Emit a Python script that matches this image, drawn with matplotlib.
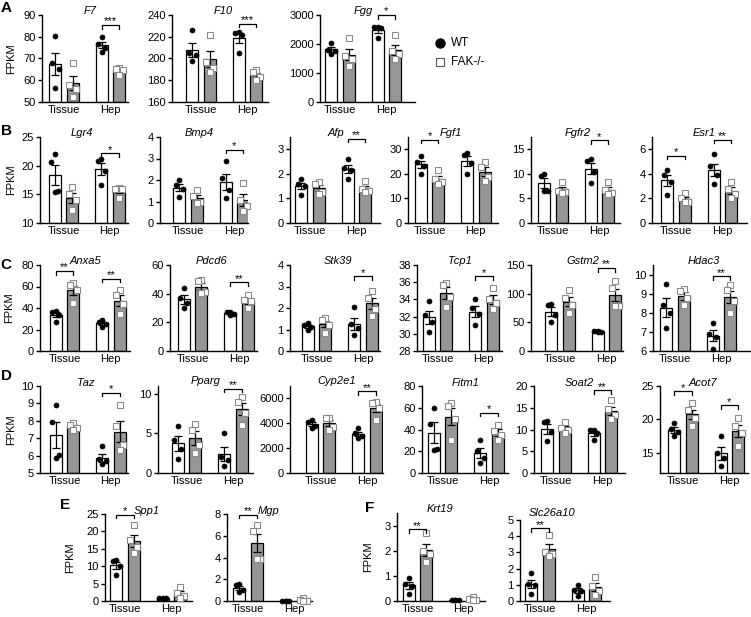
import numpy as np
import matplotlib
matplotlib.use("Agg")
import matplotlib.pyplot as plt

plt.rcParams['font.family'] = ['Liberation Sans', 'DejaVu Sans']

# ---------------- data (per gene: Tissue WT, Tissue FAK-/-, Hep WT, Hep FAK-/-) ----------------
groups = ["Tissue", "Hep"]
genotypes = ["WT", "FAK-/-"]

F7 = [[80.5, 68, 65, 56.5], [68, 58, 56, 52.5], [80, 76.5, 75, 73], [65.5, 65, 64.5, 62.5]]
F10 = [[226, 205, 203, 198], [222, 197, 191, 188], [224, 223, 222, 205], [189, 188, 183, 180]]
Fgg = [[2050, 1800, 1770, 1650], [2200, 1600, 1500, 1250], [2600, 2580, 2560, 2200], [2300, 1750, 1650, 1500]]
Lgr4 = [[22.1, 20.6, 15.5, 15.4], [16.3, 15.0, 14.0, 12.3], [21.2, 20.8, 19.0, 16.6], [16.1, 16.0, 15.9, 14.4]]
Bmp4 = [[2.0, 1.75, 1.6, 1.2], [1.55, 1.24, 1.0, 0.93], [2.87, 2.1, 1.55, 1.16], [1.85, 1.05, 0.8, 0.55]]
Afp = [[1.78, 1.6, 1.5, 1.15], [1.65, 1.6, 1.28, 1.2], [2.62, 2.22, 2.15, 1.79], [1.7, 1.4, 1.32, 1.25]]
Fgf1 = [[27.3, 24.7, 23.3, 20.0], [21.5, 18.0, 16.8, 16.0], [28.5, 27.8, 24.5, 20.0], [24.7, 22.9, 18.7, 17.0]]
Fgfr2 = [[10.0, 9.5, 6.6, 6.45], [8.4, 6.6, 6.3, 6.1], [13.0, 12.6, 10.4, 8.2], [8.4, 6.8, 6.1, 5.9]]
Esr1 = [[4.35, 3.9, 3.3, 2.3], [2.45, 2.0, 1.75, 1.72], [5.6, 4.6, 3.87, 3.2], [3.35, 2.8, 2.4, 2.0]]
Anxa5 = [[37.5, 36, 33.5, 27], [63, 61.5, 57, 44.6], [29, 27, 25.5, 22.5], [57, 52, 44, 34]]
Pdcd6 = [[43.9, 37, 33.5, 30], [49.5, 48.5, 41.5, 40.5], [27.5, 27, 26, 25], [38.8, 35.8, 34.6, 30]]
Stk39 = [[1.3, 1.2, 1.12, 1.0], [1.53, 1.45, 1.23, 0.84], [2.03, 1.25, 1.05, 0.75], [2.8, 2.45, 1.95, 1.65]]
Tcp1 = [[33.8, 32.2, 31.4, 30.2], [35.9, 35.7, 34.3, 33.1], [34, 33, 32.3, 31], [35.35, 34, 33.6, 32.9]]
Gstm2 = [[82, 80, 62, 50], [106, 93, 80, 66], [35, 34.5, 34, 33.5], [122.6, 110, 78.7, 78.7]]
Hdac3 = [[9.5, 8.4, 8.0, 7.2], [9.25, 9.15, 8.75, 8.4], [7.45, 6.9, 6.75, 6.1], [9.45, 9.2, 8.6, 8.0]]
Taz = [[8.9, 7.95, 6.05, 5.85], [7.85, 7.75, 7.6, 7.5], [6.55, 5.8, 5.7, 5.5], [8.9, 7.7, 6.6, 6.3]]
Pparg = [[6.0, 4.2, 3.0, 1.75], [6.2, 5.5, 3.5, 2.5], [5.05, 2.0, 1.6, 0.9], [9.6, 9.0, 7.6, 6.07]]
Cyp2e1 = [[4270, 4140, 3820, 3600], [4450, 4400, 3700, 3450], [3600, 3200, 3000, 2800], [5730, 5600, 5250, 4270]]
Fitm1 = [[60, 45, 22, 21], [64.5, 62, 50, 30], [30, 20, 13.5, 9], [44.5, 38.5, 35, 30.5]]
Soat2 = [[11.9, 11.7, 9.5, 7.3], [11.8, 10.4, 9.8, 9.2], [10, 9.8, 9.2, 7.6], [16.7, 14.6, 13.3, 12.3]]
Acot7 = [[19.5, 18.6, 18.1, 17.5], [22.4, 21.4, 20.2, 19.0], [17.6, 15.0, 14.2, 13.0], [20.2, 19.0, 18.0, 16.0]]
Spp1 = [[11.9, 11.5, 10.0, 7.6], [21.8, 17.5, 15.6, 13.7], [1.0, 0.9, 0.8, 0.7], [4.0, 2.2, 1.3, 0.9]]
Mgp = [[1.6, 1.45, 1.05, 0.83], [7.0, 6.46, 3.9, 3.9], [0.03, 0.02, 0.01, 0.01], [0.25, 0.05, 0.03, 0.02]]
Krt19 = [[0.93, 0.67, 0.6, 0.27], [2.7, 2.0, 1.85, 1.55], [0.04, 0.03, 0.03, 0.02], [0.16, 0.08, 0.05, 0.03]]
Slc26a10 = [[1.74, 1.03, 0.97, 0.45], [4.1, 3.0, 2.9, 2.75], [1.0, 0.7, 0.6, 0.3], [1.5, 0.9, 0.6, 0.4]]

gene_data = {
    "F7": F7, "F10": F10, "Fgg": Fgg, "Lgr4": Lgr4, "Bmp4": Bmp4, "Afp": Afp,
    "Fgf1": Fgf1, "Fgfr2": Fgfr2, "Esr1": Esr1, "Anxa5": Anxa5, "Pdcd6": Pdcd6,
    "Stk39": Stk39, "Tcp1": Tcp1, "Gstm2": Gstm2, "Hdac3": Hdac3, "Taz": Taz,
    "Pparg": Pparg, "Cyp2e1": Cyp2e1, "Fitm1": Fitm1, "Soat2": Soat2, "Acot7": Acot7,
    "Spp1": Spp1, "Mgp": Mgp, "Krt19": Krt19, "Slc26a10": Slc26a10,
}

# y axis ranges and tick values
y_ranges = {
    "F7": (50, 90, [50, 60, 70, 80, 90]), "F10": (160, 240, [160, 180, 200, 220, 240]),
    "Fgg": (0, 3000, [0, 1000, 2000, 3000]), "Lgr4": (10, 25, [10, 15, 20, 25]),
    "Bmp4": (0, 4, [0, 1, 2, 3, 4]), "Afp": (0, 3.5, [0, 1, 2, 3]),
    "Fgf1": (0, 35, [0, 10, 20, 30]), "Fgfr2": (0, 17.5, [0, 5, 10, 15]),
    "Esr1": (0, 7, [0, 2, 4, 6]), "Anxa5": (0, 80, [0, 20, 40, 60, 80]),
    "Pdcd6": (0, 60, [0, 20, 40, 60]), "Stk39": (0, 4, [0, 1, 2, 3, 4]),
    "Tcp1": (28, 38, [28, 30, 32, 34, 36, 38]), "Gstm2": (0, 150, [0, 50, 100, 150]),
    "Hdac3": (6, 10.5, [6, 7, 8, 9, 10]), "Taz": (5, 10, [5, 6, 7, 8, 9, 10]),
    "Pparg": (0, 11, [0, 5, 10]), "Cyp2e1": (0, 7000, [0, 2000, 4000, 6000]),
    "Fitm1": (0, 80, [0, 20, 40, 60, 80]), "Soat2": (0, 20, [0, 5, 10, 15, 20]),
    "Acot7": (12, 25, [15, 20, 25]), "Spp1": (0, 25, [0, 5, 10, 15, 20, 25]),
    "Mgp": (0, 8, [0, 2, 4, 6, 8]), "Krt19": (0, 3.5, [0, 1, 2, 3]),
    "Slc26a10": (0, 5, [0, 1, 2, 3, 4, 5]),
}

# significance: (group index, stars)
significance = {
    "F7": [(1, "***")], "F10": [(1, "***")], "Fgg": [(1, "*")], "Lgr4": [(1, "*")],
    "Bmp4": [(1, "*")], "Afp": [(1, "**")], "Fgf1": [(0, "*")], "Fgfr2": [(1, "*")],
    "Esr1": [(0, "*"), (1, "**")], "Anxa5": [(0, "**"), (1, "**")], "Pdcd6": [(1, "**")],
    "Stk39": [(1, "*")], "Tcp1": [(1, "*")], "Gstm2": [(1, "**")], "Hdac3": [(1, "**")],
    "Taz": [(1, "*")], "Pparg": [(1, "**")], "Cyp2e1": [(1, "**")], "Fitm1": [(1, "*")],
    "Soat2": [(1, "**")], "Acot7": [(0, "*"), (1, "*")], "Spp1": [(0, "*")],
    "Mgp": [(0, "**")], "Krt19": [(0, "**")], "Slc26a10": [(0, "**")],
}

# ---------------- layout (pixels) ----------------
W, H = 751, 617
# name, axis left, axis right, Tissue label centre, axis top, axis bottom, title x-fraction
panels = [
    ("F7", 42, 128, 64, 15, 102, 0.56), ("F10", 172, 268, 201, 15, 102, 0.53),
    ("Fgg", 320, 415, 340, 15, 102, 0.46),
    ("Lgr4", 40, 128, 63.5, 137, 223, 0.48), ("Bmp4", 160, 248, 188, 137, 223, 0.45),
    ("Afp", 290, 380, 310, 137, 223, 0.51), ("Fgf1", 408, 498, 429.5, 137, 223, 0.48),
    ("Fgfr2", 531, 620, 553, 137, 223, 0.52), ("Esr1", 652, 747, 676, 137, 223, 0.55),
    ("Anxa5", 40, 130, 64.5, 265, 351, 0.5), ("Pdcd6", 170, 257, 192.5, 265, 351, 0.48),
    ("Stk39", 290, 380, 316.5, 265, 351, 0.53), ("Tcp1", 417, 502, 437.5, 265, 351, 0.5),
    ("Gstm2", 531, 623, 560, 265, 351, 0.56), ("Hdac3", 653, 750, 675, 265, 351, 0.52),
    ("Taz", 40, 128, 64.5, 386, 473, 0.52), ("Pparg", 158, 253, 186.5, 386, 473, 0.5),
    ("Cyp2e1", 290, 383, 320.5, 386, 473, 0.5), ("Fitm1", 422, 508, 442.5, 386, 473, 0.51),
    ("Soat2", 534, 625, 556, 386, 473, 0.5), ("Acot7", 660, 748, 683, 386, 473, 0.49),
    ("Spp1", 105, 192, 125, 514, 601, 0.48), ("Mgp", 227, 312, 248, 514, 601, 0.49),
    ("Krt19", 397, 485, 417.5, 513, 601, 0.49), ("Slc26a10", 520, 610, 540, 520, 601, 0.36),
]
title_lift = {"Slc26a10": 7.0, "Cyp2e1": 4.5, "Pparg": 4.5}
bracket_frac = {
    ("F7", 1): 0.885, ("F10", 1): 0.90, ("Fgg", 1): 1.0, ("Lgr4", 1): 0.81,
    ("Bmp4", 1): 0.85, ("Afp", 1): 0.98, ("Fgf1", 0): 0.97, ("Fgfr2", 1): 0.96,
    ("Esr1", 0): 0.78, ("Esr1", 1): 0.97, ("Anxa5", 0): 0.93, ("Anxa5", 1): 0.84,
    ("Pdcd6", 1): 0.80, ("Stk39", 1): 0.87, ("Tcp1", 1): 0.87, ("Gstm2", 1): 0.965,
    ("Hdac3", 1): 0.87, ("Taz", 1): 0.92, ("Pparg", 1): 0.97, ("Cyp2e1", 1): 0.94,
    ("Fitm1", 1): 0.69, ("Soat2", 1): 0.95, ("Acot7", 0): 0.94, ("Acot7", 1): 0.78,
    ("Spp1", 0): 0.99, ("Mgp", 0): 0.99, ("Krt19", 0): 0.815, ("Slc26a10", 0): 0.90,
}
ylabel_x = {"F7": 11, "Lgr4": 11, "Anxa5": 9, "Taz": 11, "Spp1": 70, "Krt19": 368}
letters = [("A", 6, 8), ("B", 6, 131), ("C", 6, 265), ("D", 6, 376), ("E", 65, 505), ("F", 370, 508)]

PX_PER_UNIT = 17.5
xpos = np.array([0.0, 1.0, 2.65, 3.65])
bar_w = 0.69
pt_offsets = [0.0, -0.2, 0.2, 0.0]
GRAY = "#969696"
FS = 8

fig = plt.figure(figsize=(W / 100, H / 100), dpi=100)

for name, x0, x1, tc, yt, yb, tfrac in panels:
    vals = gene_data[name]
    ax = fig.add_axes([x0 / W, 1 - yb / H, (x1 - x0) / W, (yb - yt) / H])
    first = tc - PX_PER_UNIT / 2
    ax.set_xlim(-(first - x0) / PX_PER_UNIT, (x1 - first) / PX_PER_UNIT)
    ymin, ymax, ticks = y_ranges[name]
    ax.set_ylim(ymin, ymax)
    ax.set_yticks(ticks)
    ax.set_yticklabels([f"{t:g}" for t in ticks])
    means = [np.mean(v) for v in vals]
    sems = [np.std(v, ddof=1) / np.sqrt(len(v)) for v in vals]
    for i in range(4):
        fc = "white" if i % 2 == 0 else GRAY
        ax.bar(xpos[i], means[i] - ymin, bottom=ymin, width=bar_w, color=fc,
               edgecolor="black", linewidth=0.9, zorder=2)
        ax.errorbar(xpos[i], means[i], yerr=sems[i], color="black", lw=0.9,
                    capsize=3, capthick=0.9, zorder=3)
        xs = [xpos[i] + pt_offsets[k] for k in range(len(vals[i]))]
        if i % 2 == 0:
            ax.plot(xs, vals[i], "o", ms=3.6, mfc="black", mec="black", mew=0.5,
                    zorder=4, clip_on=False)
        else:
            ax.plot(xs, vals[i], "s", ms=4.0, mfc="white", mec="#8a8a8a", mew=0.8,
                    zorder=4, clip_on=False)
    for sp in ["top", "right"]:
        ax.spines[sp].set_visible(False)
    for sp in ["left", "bottom"]:
        ax.spines[sp].set_linewidth(1.0)
    ax.set_xticks([(xpos[0] + xpos[1]) / 2, (xpos[2] + xpos[3]) / 2])
    ax.set_xticklabels(groups)
    ax.tick_params(axis="x", length=0, pad=2.5, labelsize=FS)
    ax.tick_params(axis="y", length=3, width=1.0, pad=1.5, labelsize=FS)
    hpx = yb - yt
    lift = title_lift.get(name, 3.5)
    ax.text(tfrac, 1 + lift / hpx, name, transform=ax.transAxes, ha="center", va="center",
            fontsize=FS, style="italic")
    tr = ax.get_xaxis_transform()
    for g, stars in significance.get(name, []):
        f = bracket_frac[(name, g)]
        xa, xb = xpos[2 * g], xpos[2 * g + 1]
        leg = 3.5 / hpx
        ax.plot([xa, xa, xb, xb], [f - leg, f, f, f - leg], color="black", lw=0.9,
                transform=tr, clip_on=False, zorder=5)
        ax.text((xa + xb) / 2, f + 0.5 / hpx, stars, transform=tr, ha="center",
                va="baseline", fontsize=FS)

# overlay for labels and legend (pixel coordinates)
ov = fig.add_axes([0, 0, 1, 1], zorder=10)
ov.set_xlim(0, W)
ov.set_ylim(H, 0)
ov.axis("off")
ov.patch.set_alpha(0)
for name, x0, x1, tc, yt, yb, tfrac in panels:
    if name in ylabel_x:
        ov.text(ylabel_x[name], (yt + yb) / 2, "FPKM", rotation=90, ha="center",
                va="center", fontsize=FS)
for lt, lx, ly in letters:
    ov.text(lx, ly, lt, ha="center", va="center", fontsize=11, fontweight="bold")

ov.plot([440], [43], "o", ms=6.5, mfc="black", mec="black")
ov.plot([440], [62], "s", ms=6.3, mfc="white", mec="#555555", mew=0.8)
ov.text(451, 43, genotypes[0], ha="left", va="center", fontsize=8.5)
ov.text(451, 62, genotypes[1], ha="left", va="center", fontsize=8.5)

fig.savefig("out.png", dpi=100)
